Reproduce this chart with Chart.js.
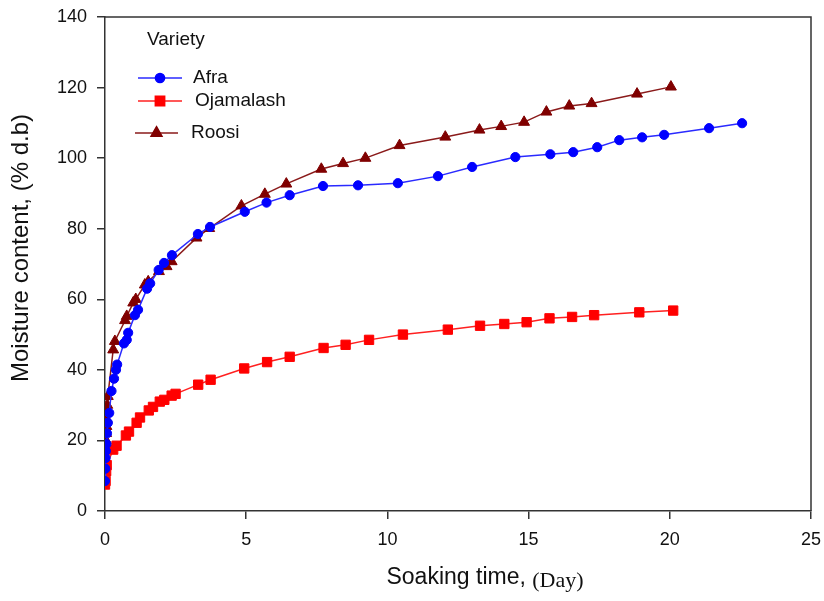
<!DOCTYPE html>
<html>
<head>
<meta charset="utf-8">
<script src="https://cdn.jsdelivr.net/npm/chart.js@4/dist/chart.umd.min.js"></script>
<style>
  body { margin: 0; background: #fff; }
  #wrap { width: 824px; height: 601px; }
</style>
</head>
<body>
<div id="wrap"><canvas id="moistureChart" width="824" height="601"></canvas></div>
<script>
// Soaking time (day) and moisture content (% d.b) per variety
const afraDays = [0, 0.01, 0.02, 0.03, 0.05, 0.07, 0.1, 0.15, 0.23, 0.32, 0.39, 0.43, 0.67, 0.77, 0.82, 1.06, 1.17, 1.49, 1.6, 1.9, 2.09, 2.37, 3.29, 3.72, 4.95, 5.72, 6.54, 7.72, 8.96, 10.37, 11.79, 13.0, 14.53, 15.77, 16.58, 17.43, 18.21, 19.02, 19.8, 21.39, 22.56];
const afraMoisture = [8.5, 12, 15, 17, 19, 22, 25, 27.8, 34, 37.5, 40, 41.5, 47.5, 48.5, 50.5, 55.5, 57, 63, 64.5, 68.3, 70.3, 72.5, 78.5, 80.5, 84.8, 87.4, 89.5, 92.1, 92.3, 92.9, 94.9, 97.5, 100.3, 101.1, 101.7, 103.1, 105.1, 105.9, 106.6, 108.5, 109.9];

const ojamalashDays = [0, 0.02, 0.04, 0.06, 0.29, 0.41, 0.74, 0.85, 1.12, 1.24, 1.55, 1.7, 1.94, 2.1, 2.36, 2.5, 3.3, 3.74, 4.93, 5.74, 6.54, 7.74, 8.52, 9.35, 10.55, 12.14, 13.28, 14.14, 14.93, 15.74, 16.54, 17.32, 18.92, 20.12];
const ojamalashMoisture = [7.5, 8.5, 11.3, 13, 17.4, 18.5, 21.4, 22.5, 25, 26.5, 28.5, 29.5, 31, 31.5, 32.7, 33.2, 35.8, 37.2, 40.4, 42.2, 43.7, 46.2, 47.1, 48.5, 50, 51.4, 52.5, 53, 53.5, 54.6, 55, 55.5, 56.3, 56.8];

const roosiDays = [0, 0.02, 0.03, 0.04, 0.05, 0.06, 0.07, 0.08, 0.1, 0.29, 0.35, 0.71, 0.77, 1.0, 1.09, 1.41, 1.53, 1.91, 2.18, 2.36, 3.24, 3.69, 4.83, 5.66, 6.42, 7.66, 8.43, 9.22, 10.43, 12.05, 13.26, 14.03, 14.84, 15.63, 16.44, 17.23, 18.84, 20.04];
const roosiMoisture = [11, 17.5, 20, 22, 24, 26, 28, 30, 32.5, 45.7, 48.1, 54, 55.2, 59, 60, 64.1, 65, 67.9, 69.3, 70.7, 77.4, 80.1, 86.5, 89.8, 92.7, 96.9, 98.5, 100, 103.6, 106, 108, 109, 110.2, 113.1, 114.8, 115.5, 118.2, 120.2];

const varietyNames = ['Afra', 'Ojamalash', 'Roosi'];
const xTicks = [0, 5, 10, 15, 20, 25];
const yTicks = [0, 20, 40, 60, 80, 100, 120, 140];

const FONT = '"Liberation Sans", Arial, sans-serif';
const SERIF = '"Liberation Serif", "Times New Roman", serif';

function toPoints(days, vals) {
  return days.map((d, i) => ({ x: d, y: vals[i] }));
}

// box on top and right, like the original plot frame
const frame = {
  id: 'frame',
  afterDatasetsDraw(chart) {
    const { ctx, chartArea: a } = chart;
    ctx.save();
    ctx.strokeStyle = '#333';
    ctx.lineWidth = 1.5;
    ctx.beginPath();
    ctx.moveTo(a.left, a.top);
    ctx.lineTo(a.right, a.top);
    ctx.lineTo(a.right, a.bottom);
    ctx.stroke();
    ctx.restore();
  }
};

// axis titles (x title mixes a sans and a serif part)
const titles = {
  id: 'titles',
  afterDraw(chart) {
    const ctx = chart.ctx;
    ctx.save();
    ctx.fillStyle = '#111';
    ctx.textBaseline = 'middle';
    const part1 = 'Soaking time, ';
    const part2 = '(Day)';
    ctx.font = '23px ' + FONT;
    const w1 = ctx.measureText(part1).width;
    ctx.font = '22px ' + SERIF;
    const w2 = ctx.measureText(part2).width;
    const x = 485 - (w1 + w2) / 2;
    ctx.textAlign = 'left';
    ctx.font = '23px ' + FONT;
    ctx.fillText(part1, x, 578);
    ctx.font = '22px ' + SERIF;
    ctx.fillText(part2, x + w1, 581);

    ctx.translate(21, 248);
    ctx.rotate(-Math.PI / 2);
    ctx.textAlign = 'center';
    ctx.font = '24px ' + FONT;
    ctx.fillText('Moisture content, (% d.b)', 0, 0);
    ctx.restore();
  }
};

// legend box inside the plot, top-left
const varietyLegend = {
  id: 'varietyLegend',
  afterDraw(chart) {
    const ctx = chart.ctx;
    ctx.save();
    ctx.fillStyle = '#111';
    ctx.font = '19px ' + FONT;
    ctx.textBaseline = 'middle';
    ctx.textAlign = 'left';
    ctx.fillText('Variety', 147, 40);
    const rows = [
      { y: 78, x1: 138, x2: 182, tx: 193 },
      { y: 101, x1: 138, x2: 182, tx: 195 },
      { y: 133, x1: 135, x2: 178, tx: 191 }
    ];
    chart.data.datasets.forEach((ds, i) => {
      const r = rows[i];
      ctx.strokeStyle = ds.borderColor;
      ctx.lineWidth = ds.borderWidth;
      ctx.beginPath();
      ctx.moveTo(r.x1, r.y);
      ctx.lineTo(r.x2, r.y);
      ctx.stroke();
      ctx.fillStyle = ds.pointBackgroundColor;
      ctx.strokeStyle = ds.pointBorderColor;
      Chart.helpers.drawPoint(ctx, {
        pointStyle: ds.pointStyle,
        radius: ds.pointRadius,
        rotation: 0,
        borderWidth: 1
      }, (r.x1 + r.x2) / 2, r.y);
      ctx.fillStyle = '#111';
      ctx.fillText(ds.label, r.tx, r.y);
    });
    ctx.restore();
  }
};

function series(label, days, vals, color, lineColor, style, radius) {
  return {
    label: label,
    data: toPoints(days, vals),
    borderColor: lineColor,
    borderWidth: 1.5,
    backgroundColor: color,
    pointBackgroundColor: color,
    pointBorderColor: color,
    pointBorderWidth: 1,
    pointStyle: style,
    pointRadius: radius,
    pointHoverRadius: radius,
    tension: 0,
    fill: false
  };
}

new Chart(document.getElementById('moistureChart'), {
  type: 'line',
  data: {
    datasets: [
      series(varietyNames[0], afraDays, afraMoisture, '#0000ff', '#2a2aff', 'circle', 4.6),
      series(varietyNames[1], ojamalashDays, ojamalashMoisture, '#ff0000', '#ff2020', 'rect', 6.6),
      series(varietyNames[2], roosiDays, roosiMoisture, '#800000', '#8a1a1a', 'triangle', 6.3)
    ]
  },
  options: {
    responsive: false,
    animation: false,
    layout: { padding: { top: 17, right: 13, left: 0, bottom: 0 } },
    plugins: {
      legend: { display: false },
      tooltip: { enabled: false }
    },
    scales: {
      x: {
        type: 'linear',
        min: 0,
        max: 25,
        afterBuildTicks: s => { s.ticks = xTicks.map(v => ({ value: v })); },
        ticks: {
          color: '#111',
          font: { family: FONT, size: 18 },
          padding: 10,
          maxRotation: 0
        },
        grid: { drawOnChartArea: false, tickLength: 8, color: '#333', lineWidth: 1.5 },
        border: { color: '#333', width: 1.5 },
        afterFit: s => { s.height = 90; s.paddingLeft = 0; s.paddingRight = 0; }
      },
      y: {
        min: 0,
        max: 140,
        afterBuildTicks: s => { s.ticks = yTicks.map(v => ({ value: v })); },
        ticks: {
          color: '#111',
          font: { family: FONT, size: 18 },
          padding: 10
        },
        grid: { drawOnChartArea: false, tickLength: 8, color: '#333', lineWidth: 1.5 },
        border: { color: '#333', width: 1.5 },
        afterFit: s => { s.width = 105; s.paddingTop = 0; s.paddingBottom = 0; }
      }
    }
  },
  plugins: [frame, titles, varietyLegend]
});
</script>
</body>
</html>
